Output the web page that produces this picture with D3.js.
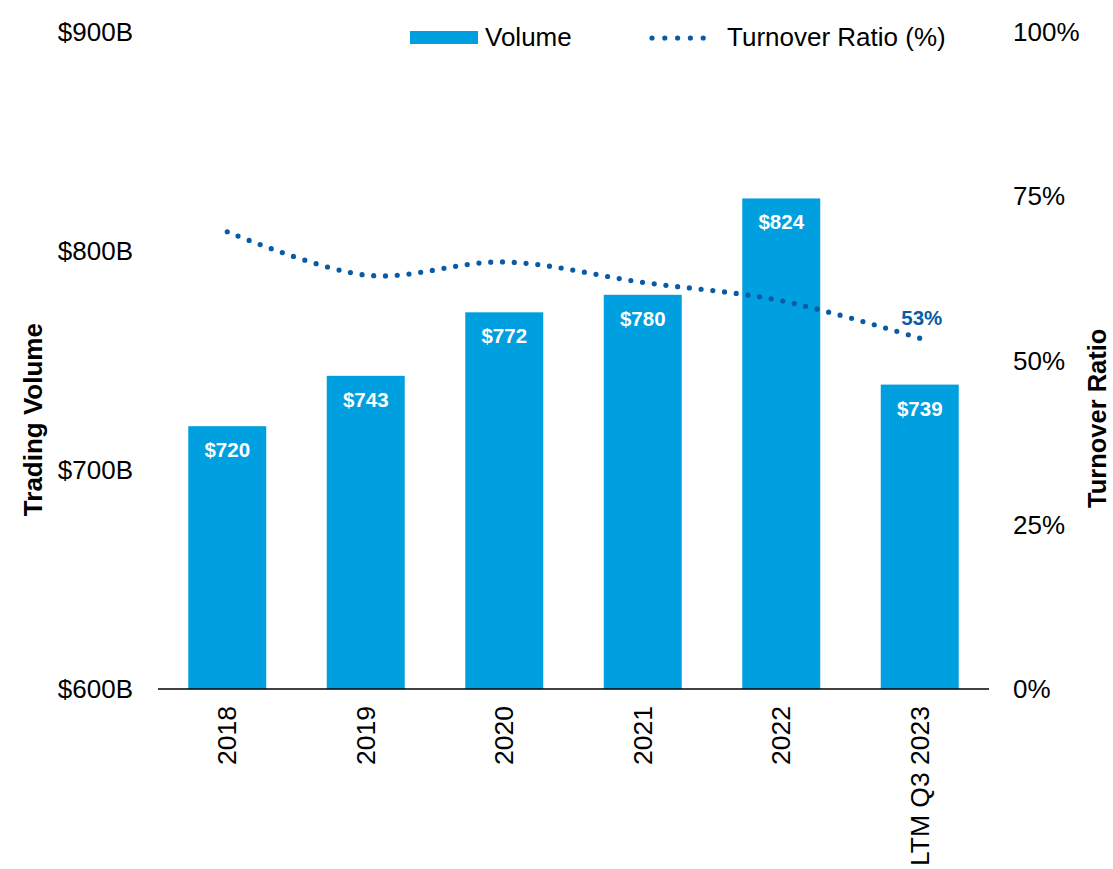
<!DOCTYPE html>
<html>
<head>
<meta charset="utf-8">
<script src="https://cdn.jsdelivr.net/npm/d3@7"></script>
<style>
  body { margin: 0; background: #fff; }
  svg { display: block; font-family: "Liberation Sans", Arial, sans-serif; }
</style>
</head>
<body>
<svg id="chart" width="1113" height="869"></svg>
<script>
// data
var categories = ["2018", "2019", "2020", "2021", "2022", "LTM Q3 2023"];
var volume = [720, 743, 772, 780, 824, 739];            // $B
var turnover = [69.6, 63.0, 65.0, 61.9, 59.1, 53.4];   // %
var leftTicks = [600, 700, 800, 900];
var rightTicks = [0, 25, 50, 75, 100];

var barColor = "#00A0E0",
	lineColor = "#0A5BA6";

var svg = d3.select("#chart");
var margin = {top: 32, right: 124, bottom: 180, left: 158},
	width = +svg.attr("width") - margin.left - margin.right,
	height = +svg.attr("height") - margin.top - margin.bottom;

var g = svg.append("g")
	.attr("transform", "translate(" + margin.left + "," + margin.top + ")");

var x = d3.scaleBand().domain(categories).range([0, width]).paddingInner(0.437).paddingOuter(0.2185);
var y = d3.scaleLinear().domain([600, 900]).range([height, 0]);
var y2 = d3.scaleLinear().domain([0, 100]).range([height, 0]);

// bars
g.selectAll(".bar")
	.data(volume)
	.enter().append("rect")
	.attr("class", "bar")
	.attr("x", function(d, i) { return x(categories[i]); })
	.attr("y", function(d) { return y(d); })
	.attr("width", x.bandwidth())
	.attr("height", function(d) { return height - y(d); })
	.attr("fill", barColor);

// bar labels
g.selectAll(".barLabel")
	.data(volume)
	.enter().append("text")
	.attr("x", function(d, i) { return x(categories[i]) + x.bandwidth() / 2; })
	.attr("y", function(d) { return y(d) + 31; })
	.attr("text-anchor", "middle")
	.attr("fill", "#fff")
	.style("font-size", "20.5px")
	.style("font-weight", "bold")
	.text(function(d) { return "$" + d; });

// turnover line (smoothed, dotted)
var line = d3.line()
	.x(function(d, i) { return x(categories[i]) + x.bandwidth() / 2; })
	.y(function(d) { return y2(d); })
	.curve(d3.curveCardinal.tension(0));

g.append("path")
	.datum(turnover)
	.attr("d", line)
	.attr("fill", "none")
	.attr("stroke", lineColor)
	.attr("stroke-width", 5.2)
	.attr("stroke-linecap", "round")
	.attr("stroke-dasharray", "0,11.8");

var last = turnover.length - 1;
g.append("text")
	.attr("x", x(categories[last]) + x.bandwidth() / 2 + 2)
	.attr("y", y2(turnover[last]) - 13)
	.attr("text-anchor", "middle")
	.attr("fill", lineColor)
	.style("font-size", "20.5px")
	.style("font-weight", "bold")
	.text(Math.round(turnover[last]) + "%");

// x axis
g.append("line")
	.attr("x1", 0).attr("x2", width)
	.attr("y1", height).attr("y2", height)
	.attr("stroke", "#000").attr("stroke-width", 1.3);

g.selectAll(".xlab")
	.data(categories)
	.enter().append("text")
	.attr("transform", function(d) {
		return "translate(" + (x(d) + x.bandwidth() / 2 + 9) + "," + (height + 17) + ") rotate(-90)";
	})
	.attr("text-anchor", "end")
	.style("font-size", "26.5px")
	.text(function(d) { return d; });

// left ticks
g.selectAll(".ltick")
	.data(leftTicks)
	.enter().append("text")
	.attr("x", -25)
	.attr("y", function(d) { return y(d); })
	.attr("dy", "0.35em")
	.attr("text-anchor", "end")
	.style("font-size", "26px")
	.text(function(d) { return "$" + d + "B"; });

// right ticks
g.selectAll(".rtick")
	.data(rightTicks)
	.enter().append("text")
	.attr("x", width + 24)
	.attr("y", function(d) { return y2(d); })
	.attr("dy", "0.35em")
	.style("font-size", "26px")
	.text(function(d) { return d + "%"; });

// axis titles
svg.append("text")
	.attr("transform", "translate(42," + (margin.top + height * 0.59) + ") rotate(-90)")
	.attr("text-anchor", "middle")
	.style("font-size", "26px")
	.style("font-weight", "bold")
	.text("Trading Volume");

svg.append("text")
	.attr("transform", "translate(1106," + (margin.top + height * 0.588) + ") rotate(-90)")
	.attr("text-anchor", "middle")
	.style("font-size", "25.5px")
	.style("font-weight", "bold")
	.text("Turnover Ratio");

// legend
var lg = svg.append("g");
lg.append("rect")
	.attr("x", 410).attr("y", 31).attr("width", 68).attr("height", 13)
	.attr("fill", barColor);
lg.append("text")
	.attr("x", 485).attr("y", 37).attr("dy", "0.35em")
	.style("font-size", "26px")
	.text("Volume");
lg.append("line")
	.attr("x1", 652).attr("x2", 716).attr("y1", 38).attr("y2", 38)
	.attr("stroke", lineColor)
	.attr("stroke-width", 5.2)
	.attr("stroke-linecap", "round")
	.attr("stroke-dasharray", "0,12.8");
lg.append("text")
	.attr("x", 727).attr("y", 37).attr("dy", "0.35em")
	.style("font-size", "26px")
	.text("Turnover Ratio (%)");
</script>
</body>
</html>
